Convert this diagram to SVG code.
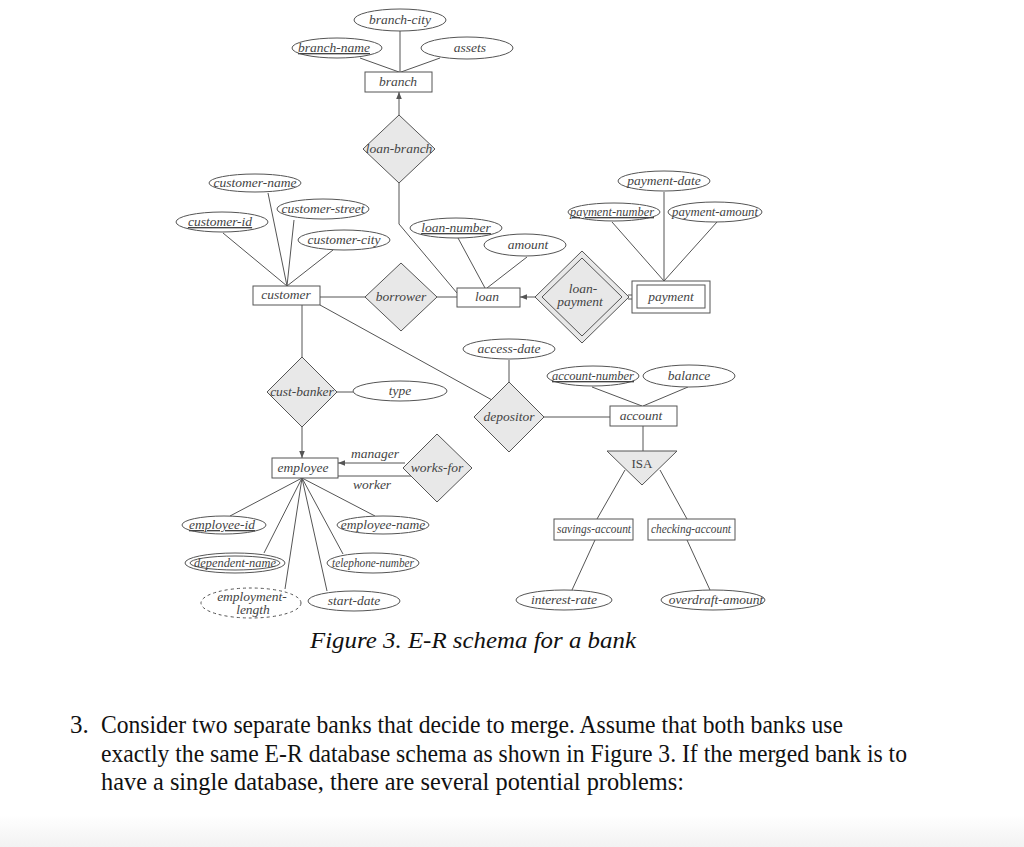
<svg xmlns="http://www.w3.org/2000/svg" width="1024" height="847" viewBox="0 0 1024 847">
<defs>
<style>
.l{stroke:#555;stroke-width:1;fill:none}
.e{fill:#fff;stroke:#555;stroke-width:1}
.r{fill:#fff;stroke:#555;stroke-width:1}
.d{fill:#e8e8e8;stroke:#555;stroke-width:1}
.t{font-family:"Liberation Serif",serif;font-style:italic;font-size:13.5px;fill:#444;text-anchor:middle}
.u{text-decoration:underline}
.du{text-decoration:underline dashed}
.cap{font-family:"Liberation Serif",serif;font-style:italic;font-size:23px;fill:#111}
.p{font-family:"Liberation Serif",serif;font-size:25px;fill:#111}
</style>
<marker id="ah" viewBox="0 0 10 10" refX="10" refY="5" markerWidth="7" markerHeight="7" orient="auto" markerUnits="userSpaceOnUse"><path d="M0,1 L10,5 L0,9 z" fill="#555"/></marker>
<linearGradient id="bg" x1="0" y1="0" x2="0" y2="1"><stop offset="0" stop-color="#fff"/><stop offset="1" stop-color="#f2f2f2"/></linearGradient>
</defs>
<rect width="1024" height="847" fill="#fff"/>
<rect x="0" y="815" width="1024" height="32" fill="url(#bg)"/>

<g id="connectors">
<line class="l" x1="400" y1="31" x2="400" y2="72"/>
<line class="l" x1="360" y1="58" x2="399" y2="72"/>
<line class="l" x1="440" y1="58" x2="401" y2="72"/>
<line class="l" x1="399" y1="115" x2="399" y2="92" marker-end="url(#ah)"/>
<polyline class="l" points="399,183 399,224 457,293"/>
<line class="l" x1="268" y1="193" x2="287" y2="286"/>
<line class="l" x1="294" y1="220" x2="287" y2="286"/>
<line class="l" x1="223" y1="233" x2="287" y2="286"/>
<line class="l" x1="333" y1="250" x2="287" y2="286"/>
<line class="l" x1="320" y1="297" x2="365" y2="297"/>
<line class="l" x1="437" y1="297" x2="457" y2="297"/>
<line class="l" x1="458" y1="238" x2="485" y2="288"/>
<line class="l" x1="527" y1="257" x2="487" y2="288"/>
<line class="l" x1="535" y1="297" x2="520" y2="297" marker-end="url(#ah)"/>
<line class="l" x1="628" y1="295" x2="632" y2="295"/>
<line class="l" x1="628" y1="299" x2="632" y2="299"/>
<line class="l" x1="664" y1="192" x2="664" y2="281"/>
<line class="l" x1="612" y1="222" x2="664" y2="281"/>
<line class="l" x1="717" y1="222" x2="664" y2="281"/>
<line class="l" x1="320" y1="305" x2="492" y2="400"/>
<line class="l" x1="509" y1="360" x2="509" y2="383"/>
<line class="l" x1="592" y1="387" x2="642" y2="406"/>
<line class="l" x1="688" y1="387" x2="643" y2="406"/>
<line class="l" x1="544" y1="417" x2="610" y2="417"/>
<line class="l" x1="643" y1="426" x2="643" y2="451"/>
<line class="l" x1="625" y1="470" x2="597" y2="519"/>
<line class="l" x1="660" y1="470" x2="687" y2="519"/>
<line class="l" x1="595" y1="540" x2="572" y2="590"/>
<line class="l" x1="687" y1="540" x2="710" y2="590"/>
<line class="l" x1="302" y1="305" x2="302" y2="358"/>
<line class="l" x1="337" y1="392" x2="353" y2="392"/>
<line class="l" x1="302" y1="427" x2="302" y2="458" marker-end="url(#ah)"/>
<line class="l" x1="405" y1="463" x2="338" y2="463" marker-end="url(#ah)"/>
<line class="l" x1="338" y1="476" x2="411" y2="476"/>
<line class="l" x1="302" y1="478" x2="230" y2="516"/>
<line class="l" x1="302" y1="478" x2="375" y2="516"/>
<line class="l" x1="302" y1="478" x2="264" y2="553"/>
<line class="l" x1="302" y1="478" x2="343" y2="554"/>
<line class="l" x1="302" y1="478" x2="285" y2="589"/>
<line class="l" x1="302" y1="478" x2="327" y2="591"/>
</g>

<g id="branch-city"><ellipse class="e" cx="400" cy="20" rx="46" ry="11"/><text class="t" x="400" y="24">branch-city</text></g>
<g id="branch-name"><ellipse class="e" cx="337" cy="48" rx="45" ry="10"/><text class="t u" x="334" y="52">branch-name</text></g>
<g id="assets"><ellipse class="e" cx="467" cy="48" rx="46" ry="11"/><text class="t" x="470" y="52">assets</text></g>
<g id="branch"><rect class="r" x="365" y="72" width="67" height="20"/><text class="t" x="398" y="86">branch</text></g>
<g id="loan-branch"><polygon class="d" points="399,115 435,149 399,183 363,149"/><text class="t" x="399" y="153" font-size="12.5">loan-branch</text></g>

<g id="customer-name"><ellipse class="e" cx="255" cy="183" rx="46" ry="9"/><text class="t" x="255" y="187" font-size="12.5">customer-name</text></g>
<g id="customer-street"><ellipse class="e" cx="323" cy="209" rx="46" ry="10"/><text class="t" x="323" y="213" font-size="12.5">customer-street</text></g>
<g id="customer-id"><ellipse class="e" cx="222" cy="222" rx="46" ry="10"/><text class="t u" x="220" y="226">customer-id</text></g>
<g id="customer-city"><ellipse class="e" cx="344" cy="240" rx="46" ry="10"/><text class="t" x="344" y="244" font-size="13">customer-city</text></g>
<g id="customer"><rect class="r" x="253" y="286" width="67" height="19"/><text class="t" x="286" y="299">customer</text></g>
<g id="borrower"><polygon class="d" points="401,263 437,297 401,331 365,297"/><text class="t" x="401" y="301">borrower</text></g>

<g id="loan-number"><ellipse class="e" cx="456" cy="228" rx="46" ry="10"/><text class="t u" x="456" y="232">loan-number</text></g>
<g id="amount"><ellipse class="e" cx="525" cy="245" rx="41" ry="11"/><text class="t" x="528" y="249">amount</text></g>
<g id="loan"><rect class="r" x="457" y="288" width="63" height="19"/><text class="t" x="487" y="301">loan</text></g>
<g id="loan-payment"><polygon class="d" points="582,251 629,297 582,343 535,297"/><polygon class="d" points="582,258 622,297 582,336 542,297"/><text class="t" x="583" y="293">loan-</text><text class="t" x="580" y="306">payment</text></g>
<g id="payment"><rect class="r" x="632" y="281" width="78" height="32"/><rect class="r" x="637" y="285" width="68" height="23"/><text class="t" x="671" y="301">payment</text></g>
<g id="payment-date"><ellipse class="e" cx="664" cy="181" rx="46" ry="10"/><text class="t" x="664" y="185">payment-date</text></g>
<g id="payment-number"><ellipse class="e" cx="614" cy="212" rx="46" ry="9"/><text class="t du" x="612" y="216" font-size="12" textLength="84" lengthAdjust="spacingAndGlyphs">payment-number</text></g>
<g id="payment-amount"><ellipse class="e" cx="715" cy="212" rx="47" ry="10"/><text class="t" x="715" y="216" font-size="12" textLength="86" lengthAdjust="spacingAndGlyphs">payment-amount</text></g>

<g id="access-date"><ellipse class="e" cx="509" cy="349" rx="46" ry="10"/><text class="t" x="509" y="353">access-date</text></g>
<g id="depositor"><polygon class="d" points="509,382 544,417 509,452 474,417"/><text class="t" x="509" y="421">depositor</text></g>
<g id="account-number"><ellipse class="e" cx="593" cy="376" rx="46" ry="10"/><text class="t u" x="593" y="380" font-size="12" textLength="82" lengthAdjust="spacingAndGlyphs">account-number</text></g>
<g id="balance"><ellipse class="e" cx="689" cy="376" rx="46" ry="11"/><text class="t" x="689" y="380">balance</text></g>
<g id="account"><rect class="r" x="610" y="406" width="67" height="20"/><text class="t" x="641" y="420">account</text></g>
<g id="isa"><polygon class="d" points="607,451 677,451 642,485"/><text x="642" y="468" font-family="Liberation Serif,serif" font-size="13" fill="#444" text-anchor="middle">ISA</text></g>
<g id="savings-account"><rect class="r" x="554" y="519" width="79" height="21"/><text class="t" x="594" y="533" font-size="12" textLength="74" lengthAdjust="spacingAndGlyphs">savings-account</text></g>
<g id="checking-account"><rect class="r" x="648" y="519" width="87" height="21"/><text class="t" x="691" y="533" font-size="12" textLength="80" lengthAdjust="spacingAndGlyphs">checking-account</text></g>
<g id="interest-rate"><ellipse class="e" cx="564" cy="600" rx="48" ry="10"/><text class="t" x="564" y="604">interest-rate</text></g>
<g id="overdraft-amount"><ellipse class="e" cx="713" cy="600" rx="52" ry="10"/><text class="t" x="716" y="604" font-size="13">overdraft-amount</text></g>

<g id="cust-banker"><polygon class="d" points="302,357 337,392 302,427 267,392"/><text class="t" x="302" y="396" font-size="12">cust-banker</text></g>
<g id="type"><ellipse class="e" cx="400" cy="391" rx="47" ry="10"/><text class="t" x="400" y="395">type</text></g>
<g id="employee"><rect class="r" x="272" y="458" width="66" height="20"/><text class="t" x="303" y="472">employee</text></g>
<g id="works-for"><polygon class="d" points="437,434 472,468 437,502 403,468"/><text class="t" x="437" y="472">works-for</text></g>
<g id="role-labels"><text class="t" x="375" y="458">manager</text><text class="t" x="372" y="489">worker</text></g>
<g id="employee-id"><ellipse class="e" cx="224" cy="525" rx="42" ry="9"/><text class="t u" x="222" y="529">employee-id</text></g>
<g id="employee-name"><ellipse class="e" cx="383" cy="525" rx="46" ry="9"/><text class="t" x="383" y="529" font-size="12">employee-name</text></g>
<g id="dependent-name"><ellipse class="e" cx="235" cy="563" rx="50" ry="10"/><ellipse class="e" cx="235" cy="563" rx="45" ry="7"/><text class="t" x="235" y="567" font-size="12" textLength="82" lengthAdjust="spacingAndGlyphs">dependent-name</text></g>
<g id="telephone-number"><ellipse class="e" cx="373" cy="563" rx="46" ry="10"/><text class="t" x="373" y="567" font-size="12" textLength="82" lengthAdjust="spacingAndGlyphs">telephone-number</text></g>
<g id="employment-length"><ellipse class="e" cx="251" cy="603" rx="50" ry="15" stroke-dasharray="3,3"/><text class="t" x="252" y="601">employment-</text><text class="t" x="253" y="614">length</text></g>
<g id="start-date"><ellipse class="e" cx="354" cy="601" rx="46" ry="10"/><text class="t" x="354" y="605">start-date</text></g>

<g id="caption"><text class="cap" x="310" y="648" textLength="326" lengthAdjust="spacingAndGlyphs">Figure 3. E-R schema for a bank</text></g>
<g id="question">
<text class="p" x="70" y="733">3.</text>
<text class="p" x="101" y="733" textLength="742" lengthAdjust="spacingAndGlyphs">Consider two separate banks that decide to merge. Assume that both banks use</text>
<text class="p" x="101" y="762" textLength="806" lengthAdjust="spacingAndGlyphs">exactly the same E-R database schema as shown in Figure 3. If the merged bank is to</text>
<text class="p" x="101" y="790" textLength="583" lengthAdjust="spacingAndGlyphs">have a single database, there are several potential problems:</text>
</g>
</svg>
